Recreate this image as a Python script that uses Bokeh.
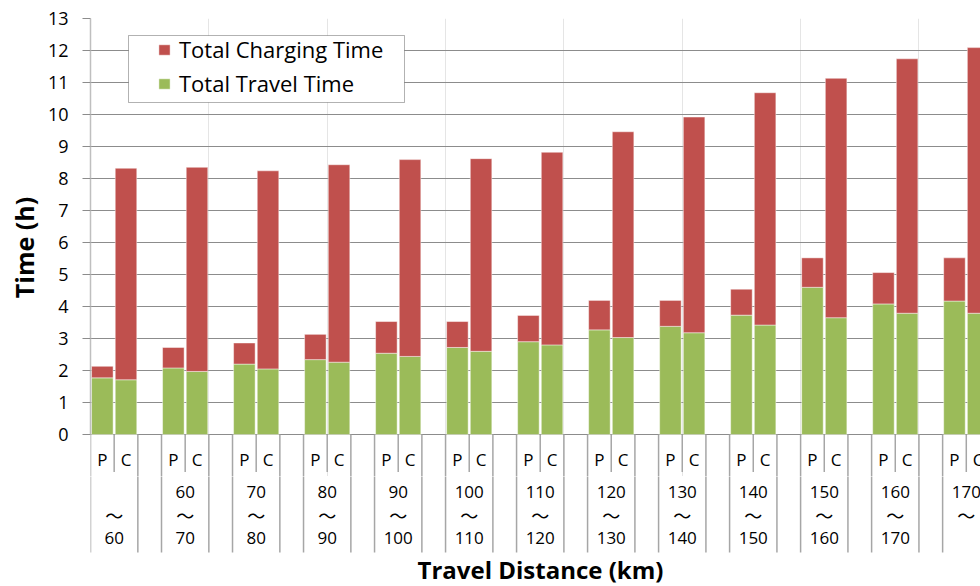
from bokeh.plotting import figure
from bokeh.models import (Range1d, FixedTicker, ColumnDataSource, Legend,
                          LegendItem, BoxAnnotation)
from bokeh.layouts import column
from bokeh.embed import file_html
from bokeh.resources import INLINE
from bokeh.core.properties import value

# ---- data -------------------------------------------------------------
range_from = ["", "60", "70", "80", "90", "100", "110", "120", "130",
              "140", "150", "160", "170"]
range_to = ["60", "70", "80", "90", "100", "110", "120", "130", "140",
            "150", "160", "170", ""]
modes = ["P", "C"]

p_travel = [1.77, 2.08, 2.20, 2.34, 2.54, 2.72, 2.90, 3.27, 3.38, 3.73, 4.60, 4.08, 4.17]
p_charging = [0.36, 0.64, 0.66, 0.79, 0.99, 0.81, 0.82, 0.92, 0.81, 0.81, 0.92, 0.98, 1.35]
c_travel = [1.71, 1.97, 2.05, 2.26, 2.44, 2.60, 2.80, 3.03, 3.18, 3.42, 3.65, 3.79, 3.79]
c_charging = [6.61, 6.38, 6.19, 6.17, 6.15, 6.02, 6.02, 6.43, 6.74, 7.26, 7.48, 7.95, 8.30]

y_ticks = list(range(0, 14))

# ---- layout constants (pixels) ------------------------------------------
W = 980
H = 586
LEFT = 90          # frame left edge
TOP = 18           # frame top edge
BASE = 434         # pixel row of the zero line
SPLIT = 476        # where the distance-band strip starts
SLOT = 23.67       # width of one category slot
UNIT = 32.0        # pixels per hour
FONT = "Open Sans"
RED = "#C0504D"
GREEN = "#9BBB59"
GRID = "#8C8C8C"
SEP = "#A6A6A6"


def ydat(px):
    """pixel row -> value on the hour scale"""
    return (BASE - px) / UNIT


def xdat(px):
    return (px - LEFT) / SLOT


n = len(range_to)
xr = Range1d(0, (W - LEFT) / SLOT)

# bar positions: each distance band has slots P, C and an empty spacer
xs, travel, charging = [], [], []
for g in range(n):
    xs += [3 * g + 0.5, 3 * g + 1.5]
    travel += [p_travel[g], c_travel[g]]
    charging += [p_charging[g], c_charging[g]]
tops = [t + c for t, c in zip(travel, charging)]
bars = ColumnDataSource(dict(x=xs, travel=travel, top=tops,
                             zero=[0] * len(xs)))

# separator lines under the axis
sx, sy1 = [], []
for k in range(3 * n + 1):
    sx.append(k)
    sy1.append(ydat(471.5) if k % 3 == 1 else ydat(552))
seps = ColumnDataSource(dict(x=sx, y0=[0] * len(sx), y1=sy1))

# ---- main chart -----------------------------------------------------------
p = figure(width=W, height=SPLIT, x_range=xr,
           y_range=Range1d(ydat(SPLIT), 13),
           output_backend="svg", toolbar_location=None,
           min_border_left=LEFT, min_border_right=0,
           min_border_top=TOP, min_border_bottom=0,
           x_axis_location=None, y_axis_location="left")
p.outline_line_color = None
p.background_fill_color = "white"
p.border_fill_color = "white"

yaxis = p.yaxis[0]
yaxis.ticker = FixedTicker(ticks=y_ticks)
yaxis.bounds = (0, 13)
yaxis.major_label_text_font = FONT
yaxis.major_label_text_font_size = "18px"
yaxis.major_label_text_color = "black"
yaxis.major_label_standoff = 14
yaxis.major_tick_in = 0
yaxis.major_tick_out = 8
yaxis.major_tick_line_color = GRID
yaxis.minor_tick_in = 0
yaxis.minor_tick_out = 0
yaxis.axis_line_color = "#BFBFBF"
yaxis.axis_line_width = 1.5
yaxis.axis_label = "Time (h)"
yaxis.axis_label_text_font = FONT
yaxis.axis_label_text_font_style = "bold"
yaxis.axis_label_text_font_size = "25px"
yaxis.axis_label_text_color = "black"
yaxis.axis_label_standoff = 4

p.ygrid.ticker = FixedTicker(ticks=y_ticks)
p.ygrid.grid_line_color = GRID
p.ygrid.grid_line_width = 1

p.segment(x0="x", y0="y0", x1="x", y1="y1", source=seps,
          line_color=SEP, line_width=1.5)

green = p.vbar(x="x", width=0.91, bottom="zero", top="travel", source=bars,
               fill_color=GREEN, line_color="white", line_alpha=0.45,
               line_width=1)
red = p.vbar(x="x", width=0.91, bottom="travel", top="top", source=bars,
             fill_color=RED, line_color="white", line_alpha=0.45,
             line_width=1)

# legend frame
p.add_layout(BoxAnnotation(left=xdat(128), right=xdat(404),
                           top=ydat(35), bottom=ydat(102),
                           fill_color="white", fill_alpha=1,
                           line_color="black", line_width=1))
legend = Legend(items=[LegendItem(label="Total Charging Time", renderers=[red]),
                       LegendItem(label="Total Travel Time", renderers=[green])],
                location=(67, SPLIT - 98), orientation="vertical",
                border_line_color=None, background_fill_alpha=0,
                padding=6, spacing=4, margin=0,
                glyph_width=14, glyph_height=13, label_standoff=8,
                label_height=21,
                label_text_font=FONT, label_text_font_size="22px",
                label_text_color="black")
p.add_layout(legend)

# P / C labels under each bar
mode_src = ColumnDataSource(dict(
    x=[3 * g + 0.5 + i for g in range(n) for i in range(2)],
    y=[ydat(459)] * (2 * n),
    t=[modes[i] for g in range(n) for i in range(2)]))
p.text(x="x", y="y", text="t", source=mode_src, text_align="center",
       text_baseline="middle", text_font=value(FONT),
       text_font_size="17px", text_color="black")

# ---- distance-band strip --------------------------------------------------
q = figure(width=W, height=H - SPLIT, x_range=xr,
           y_range=Range1d(ydat(H), ydat(SPLIT)),
           output_backend="svg", toolbar_location=None,
           min_border_left=LEFT, min_border_right=0,
           min_border_top=0, min_border_bottom=0,
           x_axis_location=None, y_axis_location=None)
q.outline_line_color = None
q.xgrid.visible = False
q.ygrid.visible = False
q.segment(x0="x", y0="y0", x1="x", y1="y1", source=seps,
          line_color=SEP, line_width=1.5)

band_x = [3 * g + 1 for g in range(n)]
q.text(x=band_x, y=[ydat(491)] * n, text=range_from, text_align="center",
       text_baseline="middle", text_font=value(FONT),
       text_font_size="17px", text_color="black")
q.text(x=band_x, y=[ydat(514)] * n, text=["～"] * n, text_align="center",
       text_baseline="middle", text_font=value("Noto Sans CJK JP"),
       text_font_size="18px", text_color="black")
q.text(x=band_x, y=[ydat(537)] * n, text=range_to, text_align="center",
       text_baseline="middle", text_font=value(FONT),
       text_font_size="17px", text_color="black")

q.text(x=[xdat(540)], y=[ydat(569)], text=["Travel Distance (km)"],
       text_align="center", text_baseline="middle", text_font=value(FONT),
       text_font_style="bold", text_font_size="24px", text_color="black")

layout = column(p, q, spacing=0)
open("out.html", "w").write(file_html(layout, INLINE))
